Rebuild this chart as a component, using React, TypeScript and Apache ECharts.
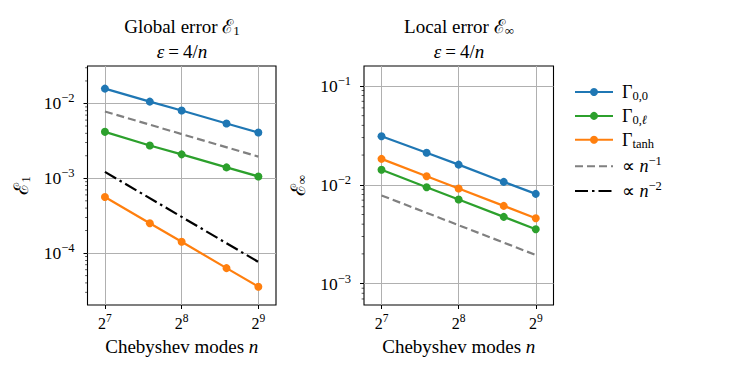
import React, { useEffect, useRef } from "react";
import * as echarts from "echarts";

const modes = [128, 192, 256, 384, 512];
const globalG00 = [0.0158, 0.0106, 0.00807, 0.00541, 0.0041];
const globalG0l = [0.00418, 0.00275, 0.00209, 0.0014, 0.00106];
const globalTanh = [0.000564, 0.000251, 0.000142, 0.000063, 0.0000356];
const localG00 = [0.031, 0.0211, 0.016, 0.0107, 0.0081];
const localG0l = [0.0142, 0.00946, 0.0071, 0.00474, 0.00355];
const localTanh = [0.0183, 0.0122, 0.00918, 0.00612, 0.00459];
const refN1 = [0.0078125, 0.00195];
const refN2 = [0.00122, 0.0000763];
const refX = [128, 512];
const xTicks = [128, 256, 512];
const leftYTicks = [1e-4, 1e-3, 1e-2];
const rightYTicks = [1e-3, 1e-2, 1e-1];
const leftMinor = [3e-5,4e-5,5e-5,6e-5,7e-5,8e-5,9e-5,2e-4,3e-4,4e-4,5e-4,6e-4,7e-4,8e-4,9e-4,2e-3,3e-3,4e-3,5e-3,6e-3,7e-3,8e-3,9e-3,2e-2,3e-2];
const rightMinor = [7e-4,8e-4,9e-4,2e-3,3e-3,4e-3,5e-3,6e-3,7e-3,8e-3,9e-3,2e-2,3e-2,4e-2,5e-2,6e-2,7e-2,8e-2,9e-2];

const FONT = "Liberation Serif";
const BLUE = "#1f77b4", GREEN = "#2ca02c", ORANGE = "#ff7f0e", GRAY = "#808080";

const X_MIN = Math.pow(2, 6.773);
const X_MAX = Math.pow(2, 9.23);

const xRich = {
  b: { fontFamily: FONT, fontSize: 16, color: "#000" },
  s: { fontFamily: FONT, fontSize: 11.5, color: "#000", padding: [0, 0, 10, 0] },
};
const yRich = {
  b: { fontFamily: FONT, fontSize: 17.5, color: "#000" },
  s: { fontFamily: FONT, fontSize: 12.5, color: "#000", padding: [0, 0, 10, 0] },
};

function pow2Label(v: number) {
  const k = Math.round(Math.log2(v));
  return `{b|2}{s|${k}}`;
}
function pow10Label(v: number) {
  const k = Math.round(Math.log10(v));
  return `{b|10}{s|${k < 0 ? "\u2212" + -k : k}}`;
}

function xAxisCfg(gridIndex: number) {
  return {
    type: "log",
    logBase: 2,
    gridIndex,
    min: X_MIN,
    max: X_MAX,
    axisLine: { show: false },
    axisTick: { show: true, length: 4, lineStyle: { color: "#000", width: 1 }, customValues: xTicks },
    axisLabel: { customValues: xTicks, formatter: pow2Label, rich: xRich, margin: 7, fontFamily: FONT, fontSize: 16, color: "#000" },
    splitLine: { show: true, lineStyle: { color: "#b0b0b0", width: 1 } },
    name: "{r|Chebyshev modes }{i|n}",
    nameLocation: "middle",
    nameGap: 32,
    nameTextStyle: {
      rich: {
        r: { fontFamily: FONT, fontSize: 19, color: "#000" },
        i: { fontFamily: FONT, fontSize: 19, fontStyle: "italic", color: "#000" },
      },
    },
  };
}

function yAxisCfg(gridIndex: number, min: number, max: number, ticks: number[], nameSub: string) {
  return {
    type: "log",
    logBase: 10,
    gridIndex,
    position: "left",
    min,
    max,
    axisLine: { show: false },
    axisTick: { show: true, length: 4, lineStyle: { color: "#000", width: 1 }, customValues: ticks },
    axisLabel: { customValues: ticks, formatter: pow10Label, rich: yRich, margin: 13, fontFamily: FONT, fontSize: 17.5, color: "#000" },
    splitLine: { show: true, lineStyle: { color: "#b0b0b0", width: 1 } },
    name: `{e|\u2130}{s|${nameSub}}`,
    nameLocation: "middle",
    nameGap: 56,
    nameTextStyle: {
      rich: {
        e: { fontFamily: FONT, fontSize: 20, color: "#000" },
        s: { fontFamily: FONT, fontSize: 13, color: "#000", padding: [8, 0, 0, 0] },
      },
    },
  };
}

function minorTicks(values: number[], xi: number, yi: number) {
  return {
    type: "scatter",
    xAxisIndex: xi,
    yAxisIndex: yi,
    data: values.map((v) => [X_MIN, v]),
    symbol: "rect",
    symbolSize: [2.4, 0.8],
    symbolOffset: [-1.2, 0],
    itemStyle: { color: "#000" },
    clip: false,
    silent: true,
    z: 5,
  };
}

function seriesLine(name: string, data: number[], color: string, xi: number, yi: number) {
  return {
    type: "line",
    name,
    xAxisIndex: xi,
    yAxisIndex: yi,
    data: modes.map((m, i) => [m, data[i]]),
    symbol: "circle",
    symbolSize: 8,
    color,
    lineStyle: { color, width: 2.2 },
    itemStyle: { color },
  };
}

function refLine(name: string, data: number[], color: string, type: any, xi: number, yi: number) {
  return {
    type: "line",
    name,
    xAxisIndex: xi,
    yAxisIndex: yi,
    data: refX.map((m, i) => [m, data[i]]),
    symbol: "none",
    color,
    lineStyle: { color, width: 2.2, type },
    itemStyle: { color },
  };
}

const NAMES = ["G00", "G0l", "Gtanh", "N1", "N2"];
const legendLabels: Record<string, string> = {
  G00: "{g|\u0393}{s|0,0}",
  G0l: "{g|\u0393}{s|0,}{si|\u2113}",
  Gtanh: "{g|\u0393}{s|tanh}",
  N1: "{g|\u221D }{i|n}{p|\u22121}",
  N2: "{g|\u221D }{i|n}{p|\u22122}",
};

export default function App() {
  const ref = useRef<HTMLDivElement>(null);
  useEffect(() => {
    if (!ref.current) return;
    const chart = echarts.init(ref.current, null, { renderer: "svg" });
    const lMin = Math.pow(10, -4.693), lMax = Math.pow(10, -1.499);
    const rMin = Math.pow(10, -3.216), rMax = Math.pow(10, -0.798);
    const dashed = [8, 4];
    const dashDot = [13, 4, 2.5, 4];
    const titleRich = {
      r: { fontFamily: FONT, fontSize: 19, fill: "#000", color: "#000" },
      e: { fontFamily: FONT, fontSize: 19, fill: "#000", color: "#000" },
      s: { fontFamily: FONT, fontSize: 13, fill: "#000", color: "#000", padding: [8, 0, 0, 0] },
      q: { fontFamily: FONT, fontSize: 19, fill: "#000", color: "#000", padding: [0, 4, 0, 4] },
      i: { fontFamily: FONT, fontSize: 19, fontStyle: "italic", fill: "#000", color: "#000" },
    };
    chart.setOption({
      animation: false,
      backgroundColor: "#fff",
      textStyle: { fontFamily: FONT },
      grid: [
        { left: 87.5, top: 66, width: 188.5, height: 239, show: true, borderColor: "#000", borderWidth: 1.1, backgroundColor: "transparent", containLabel: false },
        { left: 364, top: 66, width: 189.5, height: 239, show: true, borderColor: "#000", borderWidth: 1.1, backgroundColor: "transparent", containLabel: false },
      ],
      xAxis: [xAxisCfg(0), xAxisCfg(1)],
      yAxis: [
        yAxisCfg(0, lMin, lMax, leftYTicks, "1"),
        yAxisCfg(1, rMin, rMax, rightYTicks, "\u221E"),
      ],
      legend: {
        orient: "vertical",
        left: 569,
        top: 78,
        itemWidth: 38,
        itemHeight: 10,
        itemGap: 4.4,
        data: NAMES.map((n) => (n === "N1" || n === "N2" ? { name: n, itemStyle: { opacity: 0 } } : { name: n })),
        formatter: (n: string) => legendLabels[n],
        textStyle: {
          padding: [0, 0, 0, 4],
          rich: {
            g: { fontFamily: FONT, fontSize: 18, color: "#000" },
            i: { fontFamily: FONT, fontSize: 18, fontStyle: "italic", color: "#000" },
            s: { fontFamily: FONT, fontSize: 12.5, color: "#000", padding: [8, 0, 0, 0] },
            si: { fontFamily: FONT, fontSize: 12.5, fontStyle: "italic", color: "#000", padding: [8, 0, 0, 0] },
            p: { fontFamily: FONT, fontSize: 12.5, color: "#000", padding: [0, 0, 10, 0] },
          },
        },
      },
      graphic: [
        { type: "text", x: 182, y: 26, style: { text: "{r|Global error }{e|\u2130}{s|1}", align: "center", verticalAlign: "middle", rich: titleRich } },
        { type: "text", x: 182, y: 51, style: { text: "{i|\u03B5}{q|=}{r|4/}{i|n}", align: "center", verticalAlign: "middle", rich: titleRich } },
        { type: "text", x: 459, y: 26, style: { text: "{r|Local error }{e|\u2130}{s|\u221E}", align: "center", verticalAlign: "middle", rich: titleRich } },
        { type: "text", x: 459, y: 51, style: { text: "{i|\u03B5}{q|=}{r|4/}{i|n}", align: "center", verticalAlign: "middle", rich: titleRich } },
      ],
      series: [
        seriesLine("G00", globalG00, BLUE, 0, 0),
        refLine("N1", refN1, GRAY, dashed, 0, 0),
        seriesLine("G0l", globalG0l, GREEN, 0, 0),
        refLine("N2", refN2, "#000", dashDot, 0, 0),
        seriesLine("Gtanh", globalTanh, ORANGE, 0, 0),
        seriesLine("G00", localG00, BLUE, 1, 1),
        seriesLine("Gtanh", localTanh, ORANGE, 1, 1),
        seriesLine("G0l", localG0l, GREEN, 1, 1),
        refLine("N1", refN1, GRAY, dashed, 1, 1),
        minorTicks(leftMinor, 0, 0),
        minorTicks(rightMinor, 1, 1),
      ],
    });
    return () => chart.dispose();
  }, []);
  return <div ref={ref} style={{ width: 747, height: 374, margin: -8 }} />;
}
